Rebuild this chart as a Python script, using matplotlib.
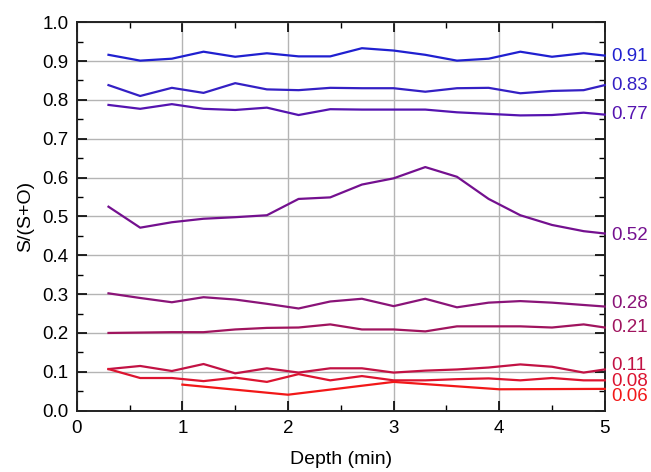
import matplotlib
matplotlib.use("Agg")
import matplotlib.pyplot as plt
from matplotlib.ticker import MultipleLocator

plt.rcParams['font.family'] = ['Liberation Sans', 'DejaVu Sans']

depth = [0.3, 0.6, 0.9, 1.2, 1.5, 1.8, 2.1, 2.4, 2.7, 3.0, 3.3, 3.6, 3.9, 4.2, 4.5, 4.8, 5.0]

s091 = [0.916, 0.901, 0.906, 0.924, 0.911, 0.920, 0.912, 0.912, 0.933, 0.927, 0.916, 0.901, 0.906, 0.924, 0.911, 0.920, 0.914]
s083 = [0.838, 0.810, 0.831, 0.818, 0.843, 0.827, 0.825, 0.831, 0.830, 0.830, 0.821, 0.830, 0.831, 0.817, 0.823, 0.825, 0.838]
s077 = [0.787, 0.777, 0.789, 0.777, 0.774, 0.780, 0.761, 0.776, 0.775, 0.775, 0.775, 0.768, 0.764, 0.760, 0.761, 0.767, 0.762]
s052 = [0.525, 0.471, 0.485, 0.494, 0.498, 0.503, 0.545, 0.549, 0.582, 0.598, 0.627, 0.602, 0.545, 0.503, 0.478, 0.462, 0.456]
s028 = [0.302, 0.290, 0.279, 0.292, 0.286, 0.275, 0.263, 0.281, 0.288, 0.269, 0.288, 0.266, 0.278, 0.282, 0.278, 0.272, 0.268]
s021 = [0.200, 0.201, 0.202, 0.202, 0.209, 0.213, 0.214, 0.222, 0.209, 0.209, 0.204, 0.217, 0.217, 0.217, 0.214, 0.222, 0.214]
s011 = [0.107, 0.115, 0.102, 0.120, 0.096, 0.109, 0.098, 0.109, 0.109, 0.098, 0.103, 0.106, 0.111, 0.119, 0.113, 0.098, 0.106]
s008 = [0.107, 0.084, 0.084, 0.076, 0.085, 0.074, 0.094, 0.078, 0.089, 0.078, 0.078, 0.081, 0.083, 0.078, 0.084, 0.078, 0.078]
depth006 = [1.0, 2.0, 3.0, 4.0, 5.0]
s006 = [0.067, 0.041, 0.074, 0.055, 0.056]

labels = ['0.91', '0.83', '0.77', '0.52', '0.28', '0.21', '0.11', '0.08', '0.06']
label_y = [0.912, 0.836, 0.762, 0.452, 0.275, 0.213, 0.116, 0.076, 0.036]
colors = ['#2020d0', '#3420c4', '#5514b0', '#74108f', '#8a1478', '#a0145e', '#c21244', '#dc1430', '#f21818']

series_x = [depth] * 8 + [depth006]
series_y = [s091, s083, s077, s052, s028, s021, s011, s008, s006]

fig = plt.figure(figsize=(6.51, 4.72), dpi=100)
ax = fig.add_axes([0.118, 0.13, 0.811, 0.823])

for xs, ys, c in zip(series_x, series_y, colors):
    ax.plot(xs, ys, color=c, lw=1.6, clip_on=False, zorder=3)

for lab, ly, c in zip(labels, label_y, colors):
    ax.text(1.012, ly, lab, color=c, fontsize=13.5, va='center', ha='left',
            transform=ax.get_yaxis_transform())

ax.set_xlim(0, 5)
ax.set_ylim(0, 1.0)
ax.xaxis.set_major_locator(MultipleLocator(1))
ax.xaxis.set_minor_locator(MultipleLocator(0.5))
ax.yaxis.set_major_locator(MultipleLocator(0.1))
ax.yaxis.set_minor_locator(MultipleLocator(0.05))
ax.yaxis.set_major_formatter(matplotlib.ticker.FormatStrFormatter('%.1f'))
ax.xaxis.set_major_formatter(matplotlib.ticker.FormatStrFormatter('%d'))

ax.grid(True, which='major', color='#b4b4b4', lw=1.0, zorder=0)
ax.tick_params(which='both', direction='in', top=True, right=True, labelsize=13.5, colors='black')
ax.tick_params(which='major', length=7, width=1.2)
ax.tick_params(axis='x', which='major', pad=7)
ax.tick_params(axis='y', which='major', pad=6)
ax.tick_params(which='minor', length=4, width=1.0)
for s in ax.spines.values():
    s.set_linewidth(1.4)
    s.set_color('#222222')

ax.set_xlabel('Depth (min)', fontsize=14, labelpad=10)
ax.set_ylabel('S/(S+O)', fontsize=14, labelpad=6)

fig.savefig('out.png', dpi=100)
